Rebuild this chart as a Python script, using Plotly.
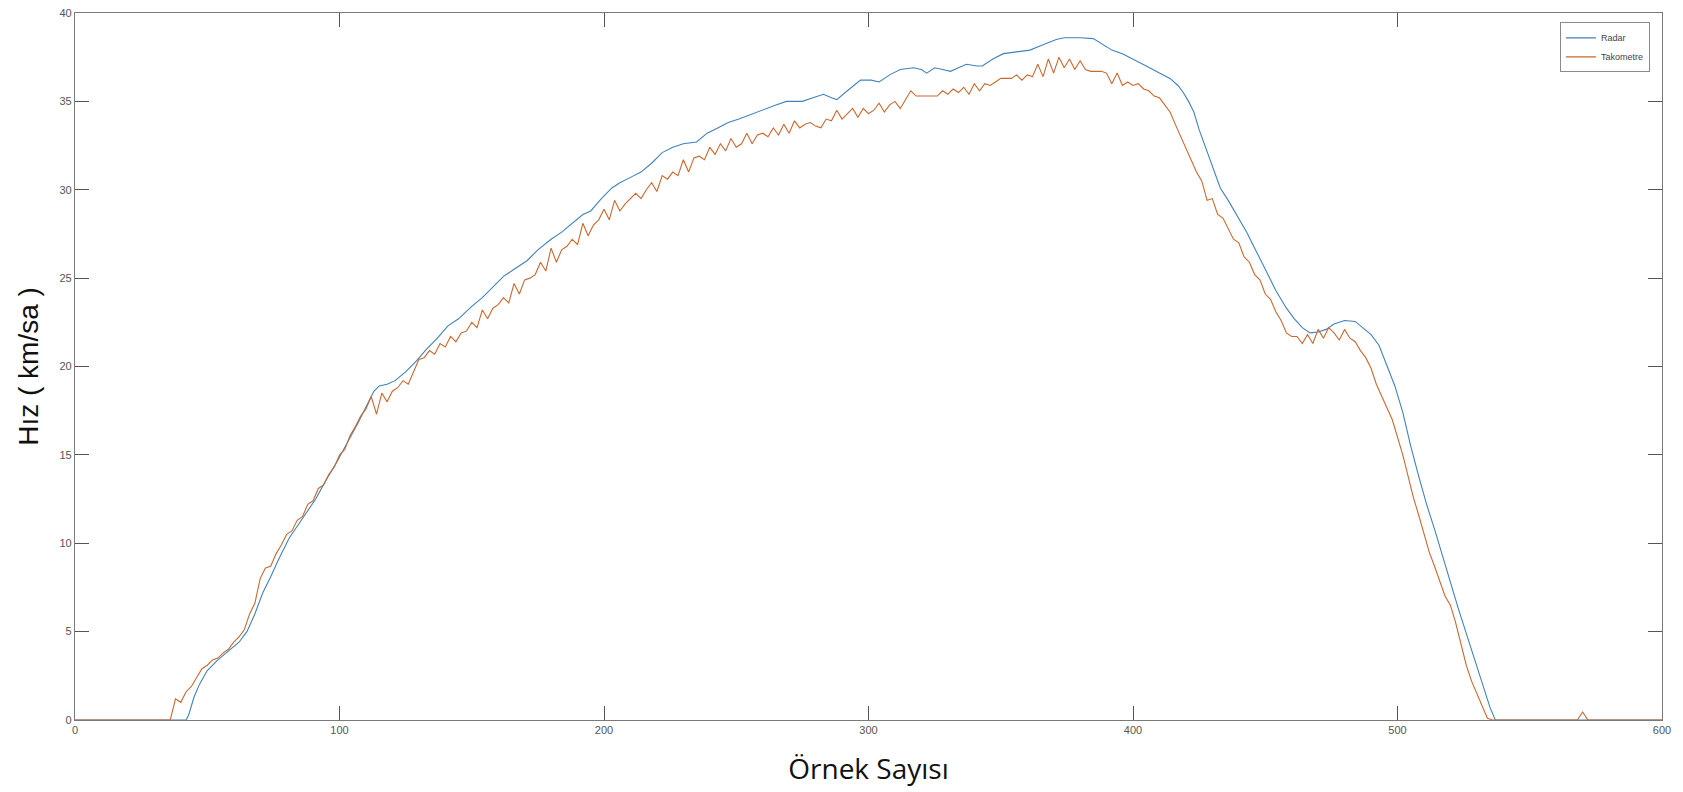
import plotly.graph_objects as go

# ---- Data ----
radar_x = [0, 42, 43, 45, 47, 50, 54, 58, 62, 65, 68, 71, 74, 77, 81, 86, 91, 95, 99, 103,
           107, 111, 113, 115, 118, 121, 125, 129, 133, 137, 141, 145, 150, 154, 158, 162, 166,
           171, 175, 180, 184, 188, 192, 195, 199, 203, 206, 210, 214, 218, 222, 226, 230, 235,
           239, 243, 247, 251, 256, 260, 265, 269, 275, 279, 283, 286, 288, 292, 297, 301, 304,
           308, 312, 317, 320, 322, 325, 328, 331, 334, 337, 341, 343, 347, 351, 356, 361, 366,
           371, 374, 380, 385, 389, 392, 396, 400, 405, 410, 414, 417, 419, 421, 423, 425, 428,
           431, 433, 436, 439, 443, 447, 451, 454, 458, 461, 464, 467, 470, 473, 476, 480, 484,
           487, 490, 493, 496, 499, 502, 505, 508, 511, 514, 517, 520, 523, 526, 529, 532, 535,
           537, 600]
radar_y = [0, 0, 0.3, 1.3, 2.0, 2.8, 3.4, 3.9, 4.4, 5.0, 6.0, 7.2, 8.1, 9.1, 10.3, 11.4, 12.5,
           13.6, 14.6, 15.7, 16.8, 18.0, 18.6, 18.9, 19.0, 19.2, 19.7, 20.3, 21.0, 21.6, 22.3,
           22.7, 23.4, 23.9, 24.5, 25.1, 25.5, 26.0, 26.6, 27.2, 27.6, 28.1, 28.6, 28.8, 29.5,
           30.1, 30.4, 30.7, 31.0, 31.5, 32.1, 32.4, 32.6, 32.7, 33.2, 33.5, 33.8, 34.0, 34.3,
           34.5, 34.8, 35.0, 35.0, 35.2, 35.4, 35.2, 35.1, 35.6, 36.2, 36.2, 36.1, 36.5, 36.8,
           36.9, 36.8, 36.6, 36.9, 36.8, 36.7, 36.9, 37.1, 37.0, 37.0, 37.4, 37.7, 37.8, 37.9,
           38.2, 38.5, 38.6, 38.6, 38.55, 38.2, 37.9, 37.7, 37.4, 37.0, 36.6, 36.3, 35.9, 35.5,
           35.0, 34.4, 33.4, 32.2, 30.9, 30.1, 29.4, 28.6, 27.6, 26.4, 25.2, 24.3, 23.3, 22.7,
           22.2, 21.9, 21.95, 22.1, 22.4, 22.6, 22.55, 22.2, 21.8, 21.2, 20.1, 18.9, 17.4, 15.5,
           13.8, 12.2, 10.8, 9.3, 7.7, 6.3, 4.9, 3.5, 2.0, 0.7, 0, 0]

tako_x = [0] + list(range(36, 538, 2)) + [568, 570, 572, 600]
tako_y = [0,
          0, 1.2, 1.0, 1.6, 1.9, 2.4, 2.9, 3.1, 3.4, 3.5,            # 36-54
          3.8, 4.0, 4.4, 4.7, 5.1, 6.0, 6.6, 8.0, 8.6, 8.7,          # 56-74
          9.4, 9.9, 10.5, 10.7, 11.3, 11.5, 12.2, 12.4, 13.1, 13.3,  # 76-94
          13.9, 14.3, 15.0, 15.3, 16.1, 16.6, 17.2, 17.6, 18.3, 17.3,  # 96-114
          18.5, 18.0, 18.6, 18.8, 19.2, 19.0, 19.7, 20.4, 20.5, 20.9,  # 116-134
          20.7, 21.3, 21.1, 21.7, 21.4, 21.9, 22.0, 22.5, 22.2, 23.2,  # 136-154
          22.7, 23.3, 23.5, 23.9, 23.6, 24.7, 24.1, 24.9, 25.0, 25.2,  # 156-174
          25.9, 25.4, 26.7, 25.9, 26.6, 26.8, 27.2, 26.9, 28.1, 27.4,  # 176-194
          28.0, 28.3, 28.9, 28.3, 29.4, 28.8, 29.2, 29.5, 29.8, 29.5,  # 196-214
          30.0, 30.4, 29.9, 30.8, 30.6, 31.0, 30.8, 31.7, 31.0, 31.8,  # 216-234
          31.9, 31.7, 32.4, 32.0, 32.6, 32.2, 32.9, 32.4, 32.6, 33.2,  # 236-254
          32.6, 33.1, 33.2, 33.0, 33.5, 33.1, 33.7, 33.2, 33.9, 33.5,  # 256-274
          33.7, 33.8, 33.6, 33.5, 34.0, 33.9, 34.5, 34.0, 34.3, 34.6,  # 276-294
          34.1, 34.6, 34.3, 34.5, 34.9, 34.4, 34.8, 35.0, 34.6, 35.1,  # 296-314
          35.6, 35.3, 35.3, 35.3, 35.3, 35.3, 35.6, 35.4, 35.7, 35.5,  # 316-334
          35.8, 35.4, 36.0, 35.6, 36.0, 35.9, 36.1, 36.3, 36.3, 36.3,  # 336-354
          36.5, 36.2, 36.5, 36.4, 37.1, 36.4, 37.4, 36.6, 37.5, 36.9,  # 356-374
          37.4, 36.8, 37.3, 36.8, 36.7, 36.7, 36.7, 36.6, 36.0, 36.6,  # 376-394
          35.9, 36.1, 35.9, 36.0, 35.7, 35.6, 35.3, 35.2, 34.8, 34.4,  # 396-414
          33.7, 33.0, 32.3, 31.6, 31.0, 30.5, 29.4, 29.5, 28.6, 28.4,  # 416-434
          27.8, 27.2, 27.0, 26.2, 25.9, 25.2, 24.9, 24.1, 23.8, 23.1,  # 436-454
          22.6, 21.9, 21.7, 21.7, 21.3, 21.8, 21.3, 22.1, 21.6, 22.2,  # 456-474
          21.9, 21.5, 22.1, 21.6, 21.4, 20.9, 20.5, 19.9, 19.0, 18.3,  # 476-494
          17.6, 17.0, 16.0, 15.0, 13.8, 12.6, 11.6, 10.6, 9.5, 8.7,    # 496-514
          7.8, 7.0, 6.5, 5.5, 4.3, 3.1, 2.2, 1.5, 0.8, 0.1,            # 516-534
          0,                                                          # 536
          0, 0.45, 0, 0]

x_ticks = [0, 100, 200, 300, 400, 500, 600]
y_ticks = [0, 5, 10, 15, 20, 25, 30, 35, 40]

fig = go.Figure()
fig.add_trace(go.Scatter(x=radar_x, y=radar_y, mode="lines", name="Radar",
                         line=dict(color="#4282ba", width=1.1)))
fig.add_trace(go.Scatter(x=tako_x, y=tako_y, mode="lines", name="Takometre",
                         line=dict(color="#c8692f", width=1.1)))

axis_common = dict(
    showline=True, linecolor="#7a7a7a", linewidth=1.2, mirror="allticks",
    ticks="inside", ticklen=14, tickcolor="#555555", tickwidth=1,
    showgrid=False, zeroline=False,
    tickfont=dict(family="Liberation Sans, Arial", size=11, color="#555555"),
)

fig.update_layout(
    width=1683, height=792,
    margin=dict(l=75, r=21, t=7, b=72),
    paper_bgcolor="white", plot_bgcolor="white",
    showlegend=True,
    legend=dict(x=0.9924, y=0.9867, xanchor="right", yanchor="top",
                bgcolor="white", bordercolor="#8a8a8a", borderwidth=1,
                font=dict(family="Liberation Sans, Arial", size=9, color="#444444"),
                tracegroupgap=0, itemwidth=30),
    xaxis=dict(range=[0, 600], tickvals=x_ticks, **axis_common,
               title=dict(text="Örnek Sayısı", standoff=24,
                          font=dict(family="Open Sans", size=28, color="#111111"))),
    yaxis=dict(range=[0, 40], tickvals=y_ticks, **axis_common,
               title=dict(text="Hız ( km/sa )", standoff=12,
                          font=dict(family="Liberation Sans, Arial", size=28, color="#111111"))),
)

fig.write_html("out.html")
